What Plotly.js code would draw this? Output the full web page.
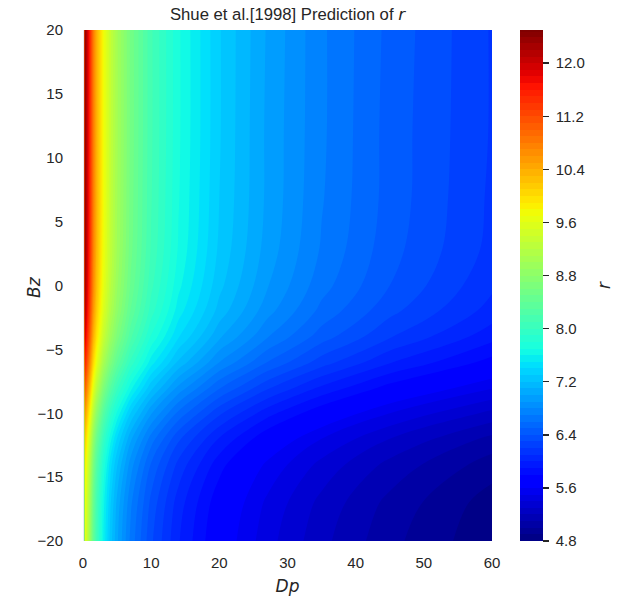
<!DOCTYPE html>
<html>
<head>
<meta charset="utf-8">
<script src="https://cdn.plot.ly/plotly-3.0.1.min.js"></script>
<style>html,body{margin:0;padding:0;background:#fff;}#chart{width:618px;height:603px;}</style>
</head>
<body>
<div id="chart"></div>
<script>
// Solar-wind dynamic pressure (x) and IMF Bz (y) sample positions
const dpValues = [0.25, 1, 1.5, 2, 3, 4, 5, 7, 10, 14, 20, 27, 35, 45, 60];
const bzValues = [-20, -17, -14, -12, -10, -8, -6, -4, -2, 0, 3, 7, 12, 20];

// Estimated standoff distance r, one row per Bz value (left to right along Dp)
const rBzM20 = [9.71, 8.96, 8.43, 8.07, 7.59, 7.26, 7.02, 6.67, 6.32, 6.01, 5.69, 5.44, 5.23, 5.03, 4.82];
const rBzM17 = [9.78, 9.03, 8.49, 8.13, 7.64, 7.32, 7.07, 6.72, 6.37, 6.05, 5.73, 5.48, 5.27, 5.07, 4.85];
const rBzM14 = [9.96, 9.20, 8.65, 8.28, 7.79, 7.45, 7.21, 6.85, 6.49, 6.17, 5.84, 5.58, 5.37, 5.17, 4.95];
const rBzM12 = [10.22, 9.43, 8.87, 8.49, 7.99, 7.65, 7.39, 7.02, 6.65, 6.32, 5.99, 5.72, 5.50, 5.30, 5.07];
const rBzM10 = [10.61, 9.80, 9.21, 8.82, 8.29, 7.94, 7.68, 7.29, 6.91, 6.57, 6.22, 5.94, 5.72, 5.50, 5.27];
const rBzM8  = [11.11, 10.25, 9.64, 9.23, 8.68, 8.31, 8.03, 7.64, 7.23, 6.87, 6.51, 6.22, 5.98, 5.76, 5.51];
const rBzM6  = [11.60, 10.70, 10.07, 9.64, 9.06, 8.68, 8.39, 7.97, 7.55, 7.18, 6.80, 6.50, 6.25, 6.01, 5.76];
const rBzM4  = [11.97, 11.05, 10.39, 9.95, 9.35, 8.96, 8.66, 8.23, 7.79, 7.41, 7.02, 6.71, 6.45, 6.21, 5.94];
const rBzM2  = [12.21, 11.27, 10.59, 10.14, 9.54, 9.13, 8.83, 8.39, 7.95, 7.55, 7.16, 6.84, 6.57, 6.33, 6.06];
const rBz0   = [12.34, 11.39, 10.71, 10.25, 9.64, 9.23, 8.92, 8.48, 8.03, 7.63, 7.23, 6.91, 6.64, 6.40, 6.12];
const rBz3   = [12.42, 11.47, 10.78, 10.32, 9.71, 9.30, 8.99, 8.54, 8.09, 7.69, 7.28, 6.96, 6.69, 6.44, 6.17];
const rBz7   = [12.46, 11.50, 10.82, 10.35, 9.74, 9.32, 9.01, 8.56, 8.11, 7.71, 7.30, 6.98, 6.71, 6.46, 6.18];
const rBz12  = [12.47, 11.51, 10.82, 10.36, 9.74, 9.33, 9.02, 8.57, 8.12, 7.72, 7.31, 6.98, 6.72, 6.46, 6.19];
const rBz20  = [12.47, 11.51, 10.82, 10.36, 9.74, 9.33, 9.02, 8.57, 8.12, 7.72, 7.31, 6.99, 6.72, 6.47, 6.19];

const colorbarTicks = [4.8, 5.6, 6.4, 7.2, 8.0, 8.8, 9.6, 10.4, 11.2, 12.0];
const xTicks = [0, 10, 20, 30, 40, 50, 60];
const yTicks = [-20, -15, -10, -5, 0, 5, 10, 15, 20];

const rGrid = [rBzM20, rBzM17, rBzM14, rBzM12, rBzM10, rBzM8, rBzM6, rBzM4, rBzM2, rBz0, rBz3, rBz7, rBz12, rBz20];

// matplotlib "jet"
const jet = [
  [0.0, 'rgb(0,0,128)'], [0.11, 'rgb(0,0,255)'], [0.125, 'rgb(0,0,255)'],
  [0.34, 'rgb(0,219,255)'], [0.35, 'rgb(0,230,247)'], [0.375, 'rgb(21,255,226)'],
  [0.64, 'rgb(239,255,8)'], [0.65, 'rgb(247,246,0)'], [0.66, 'rgb(255,236,0)'],
  [0.89, 'rgb(255,19,0)'], [0.91, 'rgb(232,0,0)'], [1.0, 'rgb(128,0,0)']
];

const textCol = '#262626';
const sans = 'Liberation Sans, Arial, sans-serif';
const mathFont = 'DejaVu Sans, sans-serif';
const plotL = 83, plotR = 492, plotT = 30, plotB = 541;
const pxX = px => (px - plotL) / (plotR - plotL);
const pxY = py => (plotB - py) / (plotB - plotT);

const trace = {
  type: 'contour',
  x: dpValues,
  y: bzValues,
  z: rGrid,
  colorscale: jet,
  zmin: 4.8,
  zmax: 12.5,
  autocontour: false,
  contours: {start: 4.8, end: 12.5, size: 0.1, coloring: 'fill', showlines: false},
  line: {width: 0},
  hoverinfo: 'x+y+z',
  colorbar: {
    x: pxX(520), xanchor: 'left', xpad: 0,
    y: 0.5, yanchor: 'middle', len: 1, lenmode: 'fraction', ypad: 0,
    thickness: 23, outlinewidth: 0,
    tickvals: colorbarTicks,
    ticktext: colorbarTicks.map(v => '\u00a0' + v.toFixed(1)),
    ticks: 'outside', ticklen: 6, tickwidth: 1.4, tickcolor: textCol,
    tickfont: {family: sans, size: 15, color: textCol}
  }
};

const layout = {
  width: 618, height: 603,
  margin: {l: plotL, r: 618 - plotR, t: plotT, b: 603 - plotB, pad: 0},
  paper_bgcolor: '#ffffff',
  plot_bgcolor: '#EAEAF2',
  title: {
    text: 'Shue et al.[1998] Prediction of <span style="font-family:DejaVu Sans;font-style:italic">r</span>',
    font: {family: sans, size: 16.7, color: textCol},
    x: 0.5, xref: 'paper', xanchor: 'center',
    y: 1 - 14.5 / 603, yref: 'container', yanchor: 'middle'
  },
  xaxis: {
    range: [0, 60], tickvals: xTicks, showgrid: false, zeroline: false,
    ticks: 'outside', ticklen: 8, tickcolor: 'rgba(0,0,0,0)',
    tickfont: {family: sans, size: 15, color: textCol},
    showline: true, linecolor: 'rgba(255,255,255,0.6)', linewidth: 1, mirror: true,
    title: {text: '<i>Dp</i>', font: {family: mathFont, size: 17, color: textCol}, standoff: 10}
  },
  yaxis: {
    range: [-20, 20], tickvals: yTicks, showgrid: false, zeroline: false,
    ticks: 'outside', ticklen: 16, tickcolor: 'rgba(0,0,0,0)',
    tickfont: {family: sans, size: 15, color: textCol},
    showline: true, linecolor: 'rgba(255,255,255,0.6)', linewidth: 1, mirror: true
  },
  annotations: [
    {text: '<i>Bz</i>', xref: 'paper', yref: 'paper', x: pxX(34), y: pxY(287),
     xanchor: 'center', yanchor: 'middle', textangle: -90, showarrow: false,
     font: {family: mathFont, size: 17, color: textCol}},
    {text: '<i>r</i>', xref: 'paper', yref: 'paper', x: pxX(604), y: pxY(285),
     xanchor: 'center', yanchor: 'middle', textangle: -90, showarrow: false,
     font: {family: mathFont, size: 17, color: textCol}}
  ]
};

Plotly.newPlot('chart', [trace], layout, {displayModeBar: false, staticPlot: true});
</script>
</body>
</html>
